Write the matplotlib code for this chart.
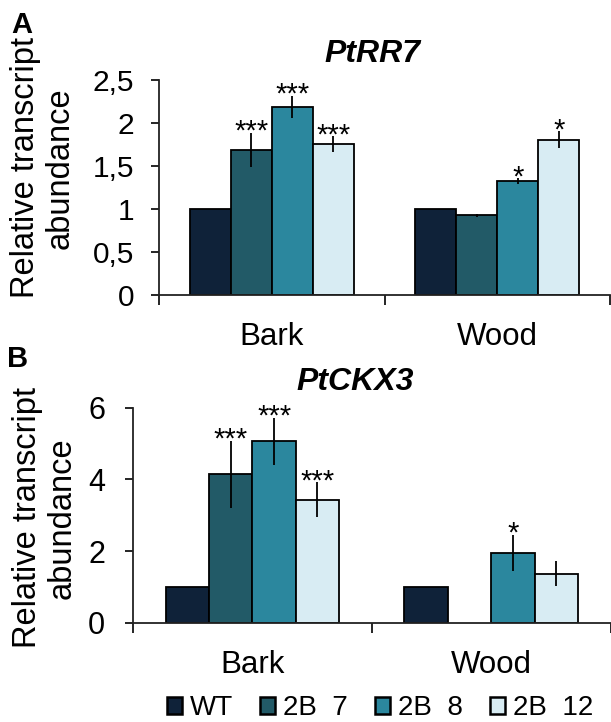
import numpy as np
import matplotlib
matplotlib.use("Agg")
import matplotlib.pyplot as plt
from matplotlib.patches import Patch
from matplotlib.ticker import FuncFormatter, FixedLocator

plt.rcParams['font.family'] = ['Liberation Sans', 'DejaVu Sans']

# data (rows = lines, cols = tissues)
tissues = ["Bark", "Wood"]
lines = ["WT", "2B  7", "2B  8", "2B  12"]
colors = ["#0f2239", "#225a67", "#2b879e", "#d8ecf3"]

rr7_mean = [[1.0, 1.0], [1.68, 0.92], [2.18, 1.32], [1.75, 1.80]]
rr7_err = [[0, 0], [0.20, 0.02], [0.13, 0.03], [0.09, 0.10]]
rr7_sig = [["", ""], ["***", ""], ["***", "*"], ["***", "*"]]

ckx3_mean = [[1.0, 1.0], [4.14, np.nan], [5.06, 1.94], [3.43, 1.37]]
ckx3_err = [[0, 0], [0.94, np.nan], [0.66, 0.51], [0.49, 0.35]]
ckx3_sig = [["", ""], ["***", ""], ["***", "*"], ["***", ""]]

W, H = 611, 722
fig = plt.figure(figsize=(W / 100, H / 100), dpi=100)


def px_axes(left, right, top, bottom):
    return fig.add_axes([left / W, (H - bottom) / H, (right - left) / W, (bottom - top) / H])


def comma(v, pos):
    return ("%g" % v).replace(".", ",")


def draw_panel(ax, mean, err, sig, ymax, ystep, tick_fs, pad):
    x = np.arange(len(tissues))
    w = 1 / 5.5
    for i in range(len(lines)):
        m = np.array(mean[i], dtype=float)
        e = np.array(err[i], dtype=float)
        pos = x + (i - 1.5) * w
        ax.bar(pos, m, w, color=colors[i], edgecolor="black", linewidth=1.3, zorder=2)
        ax.errorbar(pos, m, yerr=e, fmt="none", ecolor="black", elinewidth=1.3,
                    capsize=0, zorder=3)
        for j in range(len(tissues)):
            if sig[i][j]:
                ax.annotate(sig[i][j], (pos[j], m[j] + e[j]), xytext=(0, -7),
                            textcoords="offset pixels", ha="center", va="baseline",
                            fontsize=21)
    ax.set_xlim(-0.5, 1.5)
    ax.set_ylim(0, ymax)
    ax.set_yticks(np.arange(0, ymax + 1e-9, ystep))
    ax.yaxis.set_major_formatter(FuncFormatter(comma))
    ax.tick_params(axis="y", direction="out", length=6, width=1.2, labelsize=tick_fs, pad=pad)
    ax.xaxis.set_major_locator(FixedLocator([-0.5, 0.5, 1.5]))
    ax.set_xticklabels([])
    ax.tick_params(axis="x", direction="out", length=7.5, width=1.2)
    for s in ["top", "right"]:
        ax.spines[s].set_visible(False)
    for s in ["left", "bottom"]:
        ax.spines[s].set_linewidth(1.3)
        ax.spines[s].set_color("#222222")
    for j, t in enumerate(tissues):
        ax.annotate(t, (x[j], 0), xycoords=("data", "axes fraction"), xytext=(0, -50),
                    textcoords="offset pixels", ha="center", va="baseline", fontsize=22.5)


axA = px_axes(159, 610, 79.5, 294.5)
draw_panel(axA, rr7_mean, rr7_err, rr7_sig, 2.5, 0.5, 21.5, 12)

axB = px_axes(133, 610.5, 407.7, 622.7)
draw_panel(axB, ckx3_mean, ckx3_err, ckx3_sig, 6, 2, 22, 14)

# titles and panel letters
fig.text(372 / W, (H - 62) / H, "PtRR7", ha="center", va="baseline",
         fontsize=23, fontweight="bold", fontstyle="italic")
fig.text(355 / W, (H - 390) / H, "PtCKX3", ha="center", va="baseline",
         fontsize=23, fontweight="bold", fontstyle="italic")
fig.text(11 / W, (H - 33) / H, "A", ha="left", va="baseline", fontsize=21, fontweight="bold")
fig.text(7 / W, (H - 367) / H, "B", ha="left", va="baseline", fontsize=21, fontweight="bold")

ylab = "Relative transcript\nabundance"
fig.text(43 / W, (H - 168) / H, ylab, rotation=90, ha="center", va="center",
         multialignment="center", fontsize=23.5, linespacing=1.15)
fig.text(45 / W, (H - 518) / H, ylab, rotation=90, ha="center", va="center",
         multialignment="center", fontsize=23.5, linespacing=1.15)

handles = [Patch(facecolor=c, edgecolor="black", linewidth=1.8) for c in colors]
fig.legend(handles, lines, loc="center", bbox_to_anchor=(380 / W, (H - 708) / H),
           ncol=4, frameon=False, fontsize=20, handlelength=0.55, handleheight=0.55,
           handletextpad=0.3, columnspacing=0.95, borderpad=0, borderaxespad=0)

fig.savefig("out.png", dpi=100)
